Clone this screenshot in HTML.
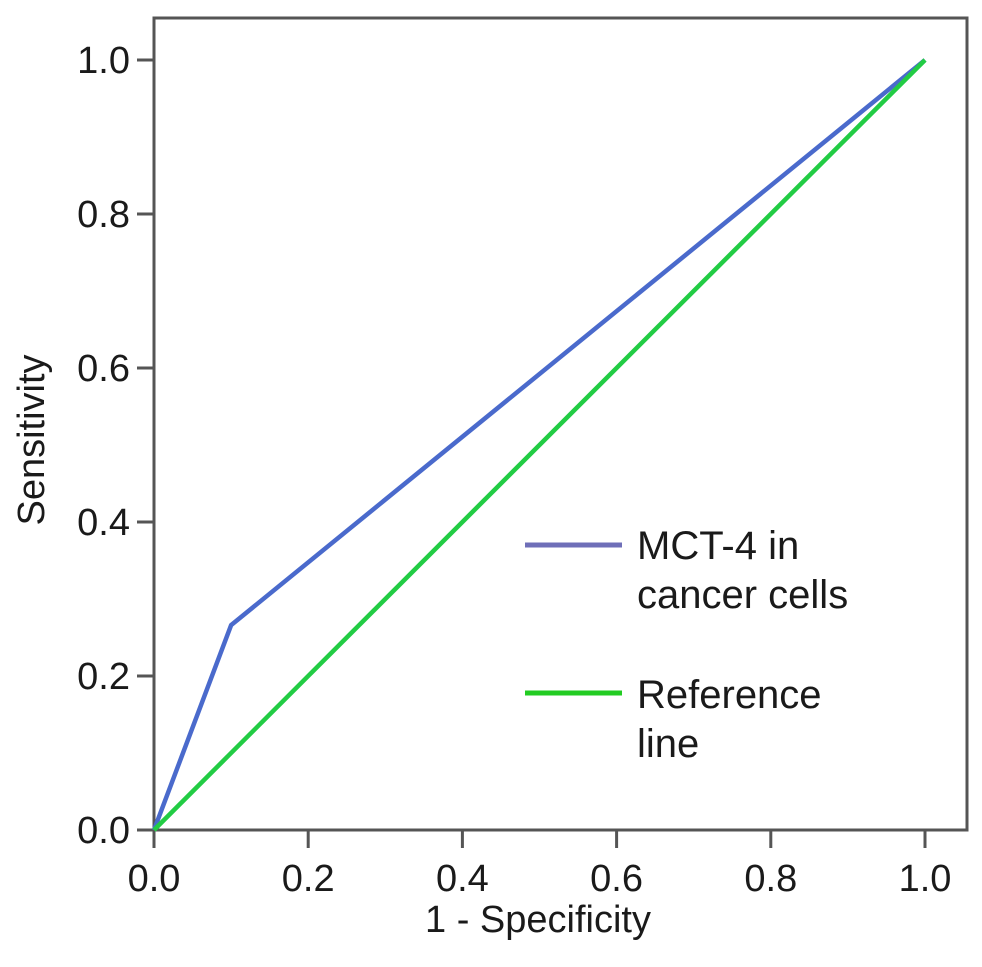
<!DOCTYPE html>
<html><head><meta charset="utf-8"><style>
html,body{margin:0;padding:0;background:#fff;}
svg text{font-family:"Liberation Sans",Arial,sans-serif;fill:#1a1a1a;}
</style></head><body>
<svg id="chart" width="982" height="962" viewBox="0 0 982 962" xmlns="http://www.w3.org/2000/svg">
<rect x="154" y="18" width="813" height="812" fill="#fff" stroke="#555" stroke-width="3"/>
<g id="axes"></g>
<g id="series"></g>
<g>
<line x1="525" y1="545" x2="622" y2="545" stroke="#6f6fb8" stroke-width="5"/>
<text x="637" y="559" font-size="40">MCT-4 in</text>
<text x="637" y="608" font-size="40">cancer cells</text>
<line x1="525" y1="693" x2="622" y2="693" stroke="#22cc22" stroke-width="5"/>
<text x="637" y="708" font-size="40">Reference</text>
<text x="637" y="757" font-size="40">line</text>
</g>
<text x="538" y="932" font-size="38" text-anchor="middle">1 - Specificity</text>
<text transform="translate(44,440) rotate(-90)" font-size="38" text-anchor="middle">Sensitivity</text>
</svg>
<script>
const xTicks=[0,0.2,0.4,0.6,0.8,1.0];
const yTicks=[0,0.2,0.4,0.6,0.8,1.0];
const tickLabels=["0.0","0.2","0.4","0.6","0.8","1.0"];
const mctX=[0,0.1,1.0];
const mctY=[0,0.266,1.0];
const refX=[0,1];
const refY=[0,1];
const NS="http://www.w3.org/2000/svg";
const sx=v=>154+v*771;
const sy=v=>830-v*770;
const axes=document.getElementById('axes');
const series=document.getElementById('series');
function mk(tag,attrs,parent){const e=document.createElementNS(NS,tag);for(const k in attrs)e.setAttribute(k,attrs[k]);parent.appendChild(e);return e;}
xTicks.forEach((v,i)=>{
  const t=mk('line',{x1:sx(v),y1:830,x2:sx(v),y2:848,stroke:'#555','stroke-width':3},axes);
  
  
  const l=mk('text',{x:sx(v),y:891,'font-size':38,'text-anchor':'middle'},axes);
  l.textContent=tickLabels[i];
  
  
});
yTicks.forEach((v,i)=>{
  const t=mk('line',{x1:137,y1:sy(v),x2:154,y2:sy(v),stroke:'#555','stroke-width':3},axes);
  
  
  const l=mk('text',{x:130,y:sy(v)+13,'font-size':38,'text-anchor':'end'},axes);
  l.textContent=tickLabels[i];
  
  
});
const ref=mk('polyline',{points:refX.map((x,i)=>sx(x)+','+sy(refY[i])).join(' '),fill:'none',stroke:'#22cc44','stroke-width':4.5,'stroke-linejoin':'round'},series);


const mct=mk('polyline',{points:mctX.map((x,i)=>sx(x)+','+sy(mctY[i])).join(' '),fill:'none',stroke:'#4a6acc','stroke-width':4.5,'stroke-linejoin':'round'},series);


series.appendChild(ref);
</script>
</body></html>
